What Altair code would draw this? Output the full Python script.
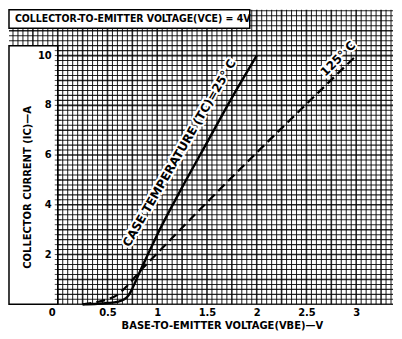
import altair as alt
import pandas as pd

# ---- data ----
vbe_25 = [0.25, 0.40, 0.50, 0.60, 0.66, 0.70, 0.74, 0.78, 0.83, 0.90, 1.00, 1.25, 1.50, 1.75, 2.00]
ic_25 = [0.00, 0.02, 0.05, 0.10, 0.18, 0.30, 0.55, 0.90, 1.35, 1.95, 2.80, 4.70, 6.50, 8.30, 10.00]
vbe_125 = [0.25, 0.40, 0.50, 0.60, 0.70, 0.83, 1.00, 1.50, 2.00, 2.50, 3.00]
ic_125 = [0.00, 0.10, 0.20, 0.38, 0.75, 1.35, 2.05, 4.10, 6.10, 8.05, 10.00]

curve_labels = ["CASE TEMPERATURE (TC)=25° C", "125° C"]
label_v = [1.30, 2.88]
label_i = [5.9, 9.62]
label_angle = [300, 315]

x_ticks = [0, 0.5, 1, 1.5, 2, 2.5, 3]
y_ticks = [round(i * 0.2, 1) for i in range(1, 53)]
y_labels = [2, 4, 6, 8, 10]

title_text = "COLLECTOR-TO-EMITTER VOLTAGE(VCE) = 4V"
x_title = "BASE-TO-EMITTER VOLTAGE(VBE)—V"
y_title = "COLLECTOR CURRENT (IC)—A"

# graph-paper layout
X_MIN, X_MAX = -0.49, 3.37
Y_MIN, Y_MAX = 0.0, 11.84
grid_x = [round(-0.45 + i * 0.05, 2) for i in range(0, 77)]
grid_y = [round(i * 0.2, 1) for i in range(0, 60)]

boxes = pd.DataFrame({
    "x0": [X_MIN, X_MIN], "x1": [1.93, 0.0],
    "y0": [11.1, 0.0], "y1": [Y_MAX, 10.4],
    "ym": [11.47, 5.2],
    "txt": [title_text, ""],
})

FONT = "DejaVu Sans"
FONT_C = "DejaVu Sans Condensed"

xs = alt.Scale(domain=[X_MIN, X_MAX], nice=False, zero=False)
ys = alt.Scale(domain=[Y_MIN, Y_MAX], nice=False, zero=False)

gx = pd.DataFrame({"v": grid_x})
gx["major"] = [abs(v * 4 - round(v * 4)) < 1e-6 for v in grid_x]
gy = pd.DataFrame({"v": grid_y})
gy["major"] = [abs(v - round(v)) < 1e-6 for v in grid_y]

xaxis = alt.Axis(
    values=x_ticks, grid=False, domain=False, ticks=False,
    labelExpr="'' + datum.value", labelFont=FONT, labelFontSize=10,
    labelFontWeight="bold", labelColor="black", labelPadding=3,
    labelOffset={"condition": {"test": "datum.value == 0", "value": -6}, "value": 0},
    title=x_title, titleFont=FONT, titleFontSize=10, titleFontWeight="bold",
    titleColor="black", titleX=214, titleY=24, titleAnchor=None,
    titleAlign="center", titleBaseline="alphabetic", zindex=1,
)
yaxis = alt.Axis(
    grid=False, domain=False, ticks=False, labels=False, offset=-49,
    title=y_title, titleFont=FONT, titleFontSize=10, titleFontWeight="bold",
    titleColor="black", titleAngle=270, titleX=-30, titleY=178,
    titleAlign="center", titleBaseline="middle", zindex=1,
)

vgrid = alt.Chart(gx).mark_rule(color="black", opacity=0.85).encode(
    x=alt.X("v:Q", scale=xs, axis=xaxis),
    strokeWidth=alt.condition("datum.major", alt.value(1.6), alt.value(1.05)),
)
hgrid = alt.Chart(gy).mark_rule(color="black", opacity=0.85).encode(
    y=alt.Y("v:Q", scale=ys, axis=yaxis),
    strokeWidth=alt.condition("datum.major", alt.value(1.6), alt.value(1.05)),
)

rects = alt.Chart(boxes).mark_rect(fill="white", stroke="black", strokeWidth=1.5).encode(
    x="x0:Q", x2="x1", y="y0:Q", y2="y1",
)
title_mark = alt.Chart(boxes).mark_text(
    align="left", baseline="middle", dx=6, font=FONT_C, fontSize=10.5,
    fontWeight="bold", color="black",
).encode(x="x0:Q", y="ym:Q", text="txt:N")

# y ticks and tick labels on the edge of the label box
yt = pd.DataFrame({"y": y_ticks, "x": [0.0] * len(y_ticks)})
ytick_mark = alt.Chart(yt).mark_tick(orient="horizontal", size=6, thickness=1, color="black").encode(
    x="x:Q", y="y:Q")
yl = pd.DataFrame({"y": y_labels, "x": [0.0] * len(y_labels)})
ylab_mark = alt.Chart(yl).mark_text(
    align="right", baseline="middle", dx=-6, font=FONT, fontSize=10, fontWeight="bold", color="black",
).encode(x="x:Q", y="y:Q", text="y:Q")

df25 = pd.DataFrame({"v": vbe_25, "i": ic_25})
df125 = pd.DataFrame({"v": vbe_125, "i": ic_125})
line25 = alt.Chart(df25).mark_line(color="black", strokeWidth=2.4, interpolate="monotone").encode(
    x="v:Q", y="i:Q")
line125 = alt.Chart(df125).mark_line(color="black", strokeWidth=2.2, strokeDash=[9, 5],
                                     interpolate="monotone").encode(x="v:Q", y="i:Q")

lab = pd.DataFrame({"v": label_v, "i": label_i, "a": label_angle, "t": curve_labels})
halo = alt.Chart(lab).mark_text(
    font=FONT, fontSize=12, fontWeight="bold", baseline="bottom", dy=-2,
    stroke="white", strokeWidth=4, fill="white",
).encode(x="v:Q", y="i:Q", text="t:N", angle=alt.Angle("a:Q", scale=None))
labels = alt.Chart(lab).mark_text(
    font=FONT, fontSize=12, fontWeight="bold", baseline="bottom", dy=-2, color="black",
).encode(x="v:Q", y="i:Q", text="t:N", angle=alt.Angle("a:Q", scale=None))

chart = alt.layer(vgrid, hgrid, rects, ytick_mark, ylab_mark, title_mark,
                  line25, line125, halo, labels).properties(
    width=386, height=296, padding=0,
).configure_view(stroke=None)

chart.save("out.html", embed_options={"renderer": "svg", "actions": False})
